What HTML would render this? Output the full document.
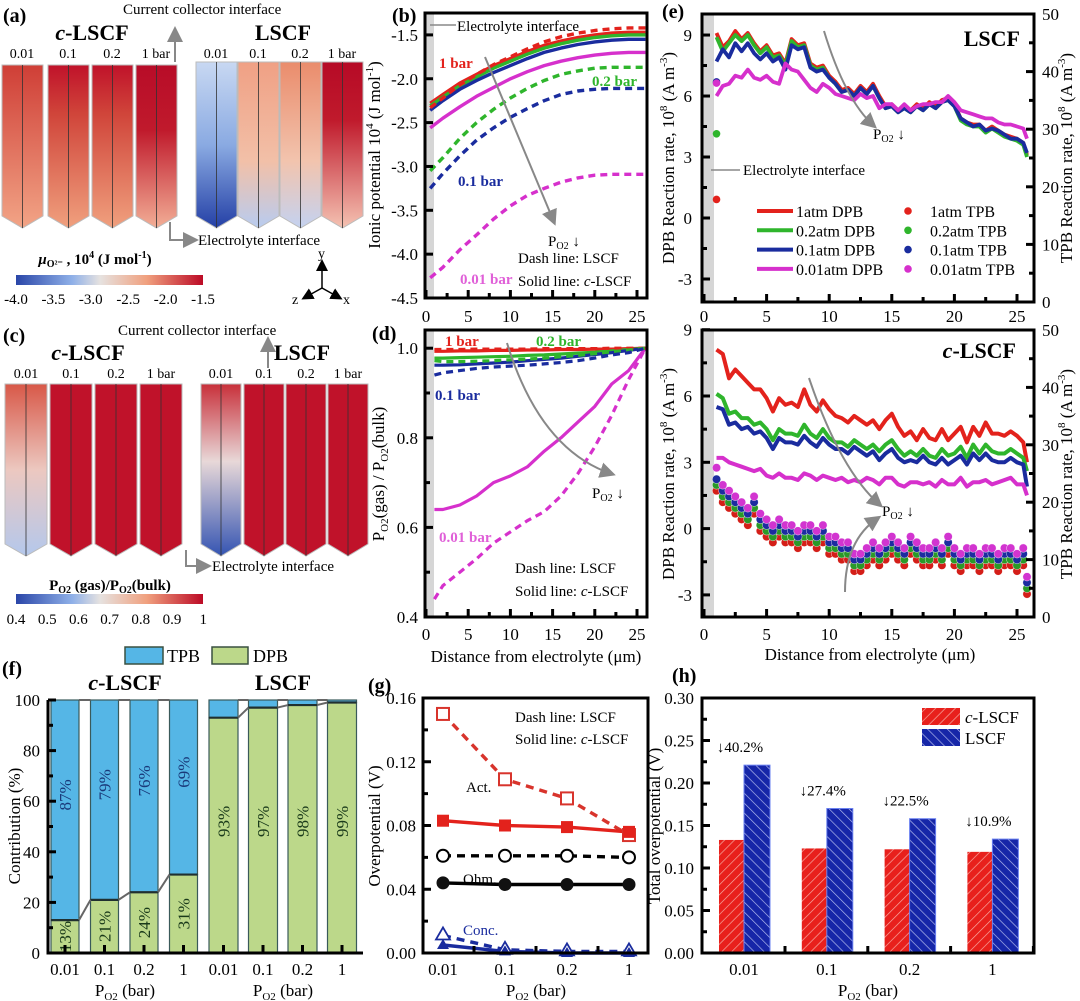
<!DOCTYPE html>
<html><head><meta charset="utf-8"><style>
html,body{margin:0;padding:0;background:#fff}
svg{display:block;font-family:"Liberation Serif",serif}
</style></head><body>
<svg id="fig" width="1080" height="1001" viewBox="0 0 1080 1001" xmlns="http://www.w3.org/2000/svg">
<defs>
<linearGradient id="cbA" x1="0" x2="1" y1="0" y2="0"><stop offset="0" stop-color="#2a46a8"/><stop offset="0.3" stop-color="#8fb0e8"/><stop offset="0.45" stop-color="#e6e2e0"/><stop offset="0.7" stop-color="#f0a07e"/><stop offset="1" stop-color="#bc0a26"/></linearGradient>
<linearGradient id="gA1" x1="0" x2="0" y1="0" y2="1"><stop offset="0" stop-color="#cf3e36"/><stop offset="1" stop-color="#f2a486"/></linearGradient>
<linearGradient id="gA2" x1="0" x2="0" y1="0" y2="1"><stop offset="0" stop-color="#c0122a"/><stop offset="0.3" stop-color="#d0453a"/><stop offset="1" stop-color="#f0a07e"/></linearGradient>
<linearGradient id="gA4" x1="0" x2="0" y1="0" y2="1"><stop offset="0" stop-color="#b80c28"/><stop offset="0.4" stop-color="#c01a2c"/><stop offset="1" stop-color="#f2ae96"/></linearGradient>
<linearGradient id="gL1" x1="0" x2="0" y1="0" y2="1"><stop offset="0" stop-color="#c8d8f2"/><stop offset="0.5" stop-color="#8aaae2"/><stop offset="1" stop-color="#2440a6"/></linearGradient>
<linearGradient id="gL2" x1="0" x2="0" y1="0" y2="1"><stop offset="0" stop-color="#f0a084"/><stop offset="0.6" stop-color="#f2c0a8"/><stop offset="1" stop-color="#b8ccf0"/></linearGradient>
<linearGradient id="gL3" x1="0" x2="0" y1="0" y2="1"><stop offset="0" stop-color="#ea8c6c"/><stop offset="0.6" stop-color="#f2c4ae"/><stop offset="1" stop-color="#c4d2f0"/></linearGradient>
<linearGradient id="gL4" x1="0" x2="0" y1="0" y2="1"><stop offset="0" stop-color="#b60a26"/><stop offset="0.35" stop-color="#c01a2c"/><stop offset="1" stop-color="#f4c2b2"/></linearGradient>
<linearGradient id="gC1" x1="0" x2="0" y1="0" y2="1"><stop offset="0" stop-color="#d85848"/><stop offset="0.5" stop-color="#ecc8c0"/><stop offset="1" stop-color="#b4c8ec"/></linearGradient>
<linearGradient id="gC5" x1="0" x2="0" y1="0" y2="1"><stop offset="0" stop-color="#c8303a"/><stop offset="0.45" stop-color="#e8d8d8"/><stop offset="1" stop-color="#3454b2"/></linearGradient>
<pattern id="hatR" width="7" height="7" patternUnits="userSpaceOnUse" patternTransform="rotate(45)"><rect width="7" height="7" fill="#e8201c"/><line x1="0" y1="0" x2="0" y2="7" stroke="#f8b0a8" stroke-width="1.3"/></pattern>
<pattern id="hatB" width="7" height="7" patternUnits="userSpaceOnUse" patternTransform="rotate(-45)"><rect width="7" height="7" fill="#1626a8"/><line x1="0" y1="0" x2="0" y2="7" stroke="#b8c0f0" stroke-width="1.3"/></pattern>
<marker id="arr" markerWidth="8" markerHeight="8" refX="6" refY="4" orient="auto"><path d="M0,0 L8,4 L0,8 z" fill="#888"/></marker>
<marker id="arrK" markerWidth="8" markerHeight="8" refX="6" refY="4" orient="auto"><path d="M0,0 L8,4 L0,8 z" fill="#000"/></marker>
</defs>
<g id="root" font-size="17"></g>
</svg>
<script>
// ---------- DATA ----------
const bX = [0.5,2,4,6,8,10,12,14,16,18,20,22,24,26];
const bSolid1 = [-2.28,-2.18,-2.05,-1.95,-1.85,-1.77,-1.69,-1.62,-1.57,-1.53,-1.50,-1.48,-1.47,-1.47];
const bSolid02 = [-2.31,-2.21,-2.08,-1.98,-1.88,-1.80,-1.72,-1.65,-1.60,-1.56,-1.53,-1.51,-1.50,-1.50];
const bSolid01 = [-2.36,-2.25,-2.12,-2.02,-1.93,-1.85,-1.77,-1.70,-1.65,-1.61,-1.58,-1.56,-1.55,-1.55];
const bSolid001 = [-2.56,-2.45,-2.32,-2.20,-2.10,-2.00,-1.92,-1.85,-1.80,-1.76,-1.73,-1.71,-1.70,-1.70];
const bDash1 = [-2.33,-2.22,-2.07,-1.95,-1.84,-1.75,-1.66,-1.58,-1.52,-1.48,-1.45,-1.43,-1.42,-1.42];
const bDash02 = [-3.05,-2.90,-2.68,-2.50,-2.35,-2.22,-2.11,-2.02,-1.95,-1.91,-1.88,-1.87,-1.87,-1.87];
const bDash01 = [-3.25,-3.08,-2.88,-2.70,-2.56,-2.44,-2.34,-2.25,-2.18,-2.14,-2.12,-2.11,-2.11,-2.11];
const bDash001 = [-4.27,-4.15,-3.95,-3.78,-3.60,-3.45,-3.33,-3.25,-3.18,-3.13,-3.10,-3.09,-3.09,-3.09];
const bYTicks = [-1.5,-2.0,-2.5,-3.0,-3.5,-4.0,-4.5];
const xTicks = [0,5,10,15,20,25];

const dX = [1,2,4,6,8,10,12,14,16,18,20,22,24,26];
const dSolid1 = [0.993,0.993,0.994,0.994,0.995,0.995,0.996,0.996,0.997,0.997,0.998,0.998,0.999,1.0];
const dSolid02 = [0.978,0.978,0.979,0.980,0.981,0.982,0.984,0.985,0.987,0.989,0.991,0.994,0.997,1.0];
const dSolid01 = [0.962,0.962,0.963,0.965,0.967,0.969,0.972,0.975,0.978,0.982,0.986,0.990,0.995,1.0];
const dSolid001 = [0.64,0.64,0.65,0.67,0.70,0.715,0.735,0.77,0.80,0.835,0.87,0.92,0.95,1.0];
const dDash1 = [0.997,0.997,0.997,0.998,0.998,0.998,0.998,0.999,0.999,0.999,0.999,1.0,1.0,1.0];
const dDash02 = [0.972,0.970,0.970,0.971,0.972,0.974,0.976,0.978,0.981,0.984,0.988,0.992,0.996,1.0];
const dDash01 = [0.94,0.945,0.95,0.955,0.958,0.96,0.962,0.965,0.968,0.972,0.978,0.985,0.99,1.0];
const dDash001 = [0.44,0.47,0.50,0.53,0.565,0.59,0.615,0.635,0.67,0.72,0.78,0.85,0.93,1.0];
const dYTicks = [1.0,0.8,0.6,0.4];

const eX = [1,1.5,2,2.5,3,3.5,4,4.5,5,5.5,6,6.5,7,7.5,8,8.5,9,9.5,10,10.5,11,11.5,12,12.5,13,13.5,14,14.5,15,15.5,16,16.5,17,17.5,18,18.5,19,19.5,20,20.5,21,21.5,22,22.5,23,23.5,24,24.5,25,25.5,25.8];
const eTop1 = [9.1,8.4,8.7,9.2,8.8,9.1,8.6,8.2,8.5,8.0,8.1,7.6,8.8,8.5,8.6,7.6,7.4,7.5,7.0,6.7,6.3,6.4,6.1,6.5,6.2,6.6,6.0,5.5,5.6,5.3,5.5,5.3,5.6,5.4,5.7,5.5,5.8,5.9,5.6,4.9,4.7,4.6,4.6,4.3,4.5,4.3,4.1,4.0,3.9,3.7,3.1];
const eTop02 = [8.9,8.2,8.6,9.0,8.7,9.0,8.5,8.1,8.4,7.9,8.0,7.5,8.7,8.4,8.5,7.5,7.3,7.4,6.9,6.6,6.2,6.3,6.0,6.4,6.1,6.5,5.9,5.4,5.5,5.2,5.4,5.2,5.5,5.3,5.6,5.4,5.7,5.8,5.5,4.8,4.6,4.5,4.5,4.2,4.4,4.2,4.0,3.9,3.8,3.6,3.0];
const eTop01 = [7.7,8.3,7.9,8.6,8.2,8.6,8.1,7.8,8.1,7.7,7.9,7.3,8.5,8.3,8.4,7.4,7.2,7.3,6.9,6.6,6.2,6.3,6.0,6.4,6.1,6.5,5.9,5.4,5.5,5.2,5.4,5.2,5.5,5.3,5.6,5.4,5.7,5.8,5.5,4.9,4.7,4.5,4.6,4.3,4.4,4.3,4.1,3.9,3.9,3.7,3.2];
const eTop001 = [6.0,6.5,6.6,7.0,6.9,7.3,6.9,6.8,7.0,6.7,6.6,7.6,7.3,7.2,6.8,6.4,6.2,6.6,6.4,6.1,6.0,5.9,5.8,6.1,5.9,6.0,5.4,5.6,5.6,5.3,5.6,5.3,5.5,5.6,5.6,5.7,5.7,6.0,5.7,5.3,5.2,5.1,5.0,4.9,4.9,4.7,4.6,4.6,4.5,4.4,3.9];
const eTopTPB = [17.8,29.2,38.2,38.0];
const eBot1 = [8.1,7.9,6.8,7.2,6.9,6.6,6.3,6.3,5.9,5.3,5.9,5.6,5.7,5.5,6.3,5.6,5.3,5.8,5.4,5.1,5.0,4.8,5.1,4.9,4.7,4.9,4.5,4.9,5.2,4.6,4.2,4.4,4.0,4.5,4.1,4.0,4.5,4.0,4.3,4.6,3.9,4.6,4.2,4.8,4.3,4.3,4.2,4.4,4.2,3.9,3.0];
const eBot02 = [6.1,5.9,5.2,5.3,5.0,5.0,4.7,4.8,4.5,4.0,4.5,4.3,4.3,4.2,4.7,4.3,4.1,4.5,4.1,3.9,3.9,3.7,4.0,3.8,3.6,3.8,3.5,3.8,4.0,3.6,3.3,3.5,3.3,3.6,3.3,3.2,3.6,3.3,3.4,3.7,3.2,3.8,3.4,3.8,3.5,3.4,3.4,3.6,3.4,3.2,2.6];
const eBot01 = [5.5,5.4,4.7,4.8,4.5,4.6,4.3,4.4,4.1,3.6,4.1,3.9,3.9,3.8,4.2,3.9,3.7,4.1,3.8,3.6,3.6,3.4,3.7,3.5,3.3,3.5,3.1,3.4,3.6,3.2,3.0,3.1,3.0,3.3,3.0,2.9,3.2,2.9,3.1,3.3,2.9,3.4,3.1,3.4,3.1,3.0,3.0,3.2,3.0,2.9,1.9];
const eBot001 = [3.2,3.2,3.0,2.9,2.8,2.7,2.6,2.7,2.4,2.3,2.5,2.3,2.3,2.2,2.5,2.4,2.2,2.4,2.3,2.2,2.3,2.1,2.2,2.1,2.3,2.2,2.0,2.3,2.3,2.0,1.9,2.1,2.1,2.0,2.1,1.9,2.2,2.0,2.0,2.3,1.9,2.1,2.1,2.2,2.0,2.1,2.2,2.3,2.0,2.0,1.5];
const tpb1 = [22,20,19,18,17,16,18,15,14,13,14,13,13,12,13,13,12,13,11,11,10,10,8,8,9,10,9,10,11,10,9,11,10,9,9,10,9,11,9,8,9,9,8,9,9,8,9,9,8,9,4];
const tpb02 = [23,21,20,19,18,17,19,16,15,14,15,14,14,13,14,14,13,14,12,12,11,11,9,9,10,11,10,11,12,11,10,12,11,10,10,11,10,12,10,9,10,10,9,10,10,9,10,10,9,10,5];
const tpb01 = [24,22,21,20,19,18,20,17,16,15,16,15,15,14,15,15,14,15,13,13,12,12,10,10,11,12,11,12,13,12,11,13,12,11,11,12,11,13,11,10,11,11,10,11,11,10,11,11,10,11,6];
const tpb001 = [26,23,22,21,20,19,21,18,17,16,17,16,16,15,16,16,15,16,14,14,13,13,11,11,12,13,12,13,14,13,12,14,13,12,12,13,12,14,12,11,12,12,11,12,12,11,12,12,11,12,7];
const eLTicks = [9,6,3,0,-3];
const eRTicks = [50,40,30,20,10,0];

const fCats = ["0.01","0.1","0.2","1"];
const fDpbC = [13,21,24,31];
const fDpbL = [93,97,98,99];
const fYTicks = [0,20,40,60,80,100];

const gCats = ["0.01","0.1","0.2","1"];
const gActL = [0.150,0.109,0.097,0.074];
const gActC = [0.083,0.080,0.079,0.076];
const gOhmL = [0.061,0.061,0.061,0.060];
const gOhmC = [0.044,0.043,0.043,0.043];
const gConcL = [0.011,0.002,0.001,0.001];
const gConcC = [0.005,0.001,0.0,0.0];
const gYTicks = [0.00,0.04,0.08,0.12,0.16];

const hCats = ["0.01","0.1","0.2","1"];
const hC = [0.133,0.123,0.122,0.119];
const hL = [0.221,0.170,0.158,0.134];
const hPct = ["↓40.2%","↓27.4%","↓22.5%","↓10.9%"];
const hYTicks = [0.00,0.05,0.10,0.15,0.20,0.25,0.30];

// ---------- HELPERS ----------
const NS = "http://www.w3.org/2000/svg";
const root = document.getElementById('root');
function mk(tag, attrs, parent){
  const el = document.createElementNS(NS, tag);
  for (const k in attrs) el.setAttribute(k, attrs[k]);
  (parent||root).appendChild(el);
  return el;
}
function txt(x,y,s,opt,name){
  opt = opt||{};
  const el = mk('text',{x:x,y:y,'font-size':opt.size||17,'text-anchor':opt.anchor||'start',fill:opt.fill||'#000','font-weight':opt.bold?'bold':'normal'});
  if (opt.rot) el.setAttribute('transform','rotate('+opt.rot+' '+x+' '+y+')');
  if (opt.italic) el.setAttribute('font-style','italic');
  el.innerHTML = s;
  
  
  return el;
}
function poly(xs, ys, fx, fy, color, w, dash, name){
  const pts = xs.map((x,i)=>fx(x).toFixed(1)+','+fy(ys[i]).toFixed(1)).join(' ');
  const el = mk('polyline',{points:pts,fill:'none',stroke:color,'stroke-width':w,'stroke-linejoin':'round'});
  if (dash) el.setAttribute('stroke-dasharray', dash);
  
  
  return el;
}
function frame(x1,y1,x2,y2,name){
  const el = mk('rect',{x:x1,y:y1,width:x2-x1,height:y2-y1,fill:'none',stroke:'#000','stroke-width':3});
  
  
}
function tick(x1,y1,x2,y2){
  const el = mk('line',{x1:x1,y1:y1,x2:x2,y2:y2,stroke:'#000','stroke-width':3});
  
  
}
function band(x1,y1,x2,y2){
  const el = mk('rect',{x:x1,y:y1,width:x2-x1,height:y2-y1,fill:'#d6d6d6'});
  
  
}
function arrowLine(d, name){
  const el = mk('path',{d:d,fill:'none',stroke:'#888','stroke-width':2,'marker-end':'url(#arr)'});
  
  
}
const RED='#e3221c', GRN='#2fb52c', BLU='#1a2c9e', MAG='#d630cc';

// ---------- PANEL A / C (3D renders) ----------
function column(x,y0,y1,w,fill,name){
  const el = mk('polygon',{points:`${x},${y0} ${x+w},${y0} ${x+w},${y1-12} ${x+w/2},${y1} ${x},${y1-12}`,fill:fill,stroke:'#bbb','stroke-width':1});
  
  
  const ln = mk('line',{x1:x+w/2,y1:y0,x2:x+w/2,y2:y1,stroke:'#333','stroke-width':0.8});
  
  
}
txt(3,22,'(a)',{size:20,bold:true},'panel-a-label');
txt(123,14,'Current collector interface',{size:15},'current-collector-label-a');
arrowLine('M175,62 L175,30','cc-arrow-a');
txt(92,40,'<tspan font-style="italic">c</tspan>-LSCF',{size:22,bold:true,anchor:'middle'},'c-lscf-title-a');
txt(283,40,'LSCF',{size:22,bold:true,anchor:'middle'},'lscf-title-a');
const aLab=['0.01','0.1','0.2','1 bar'];
const aXc=[2,48,92,136], aXl=[196,238,280,322];
const aFc=['url(#gA1)','url(#gA2)','url(#gA2)','url(#gA4)'], aFl=['url(#gL1)','url(#gL2)','url(#gL3)','url(#gL4)'];
for(let i=0;i<4;i++){
  txt(aXc[i]+20,58,aLab[i],{size:14,anchor:'middle'},'pressure-label');
  txt(aXl[i]+20,58,aLab[i],{size:14,anchor:'middle'},'pressure-label');
  column(aXc[i],65,228,41,aFc[i],'c-lscf-column');
  column(aXl[i],62,228,41,aFl[i],'lscf-column');
}
arrowLine('M170,222 L170,240 L195,240','el-arrow-a');
txt(198,245,'Electrolyte interface',{size:15},'electrolyte-label-a');
txt(95,264,'<tspan font-style="italic">μ</tspan><tspan font-size="10" dy="3">O²⁻</tspan><tspan dy="-3"> , 10</tspan><tspan font-size="10" dy="-6">4</tspan><tspan dy="6"> (J mol</tspan><tspan font-size="10" dy="-6">-1</tspan><tspan dy="6">)</tspan>',{size:15,bold:true,anchor:'middle'},'colorbar-a-title');
{const cb=mk('rect',{x:16,y:275,width:187,height:10,fill:'url(#cbA)'});

}
['-4.0','-3.5','-3.0','-2.5','-2.0','-1.5'].forEach((s,i)=>txt(16+i*37.4,304,s,{size:15,anchor:'middle'},'colorbar-a-tick'));
// axis triad
{const g=[['M322,288 L322,262','axis-y-arrow'],['M322,288 L340,298','axis-x-arrow'],['M322,288 L304,298','axis-z-arrow']];
g.forEach(a=>{const el=mk('path',{d:a[0],stroke:'#000','stroke-width':1.5,'marker-end':'url(#arrK)'});

});
txt(318,258,'y',{size:14},'axis-y-label');txt(343,304,'x',{size:14},'axis-x-label');txt(292,304,'z',{size:14},'axis-z-label');}

txt(3,342,'(c)',{size:20,bold:true},'panel-c-label');
txt(118,335,'Current collector interface',{size:15},'current-collector-label-c');
arrowLine('M268,368 L268,340','cc-arrow-c');
txt(88,360,'<tspan font-style="italic">c</tspan>-LSCF',{size:22,bold:true,anchor:'middle'},'c-lscf-title-c');
txt(302,360,'LSCF',{size:22,bold:true,anchor:'middle'},'lscf-title-c');
const cXc=[5,50,95,140], cXl=[201,244,286,328];
const cFc=['url(#gC1)','#c0122a','#c0122a','#c0122a'], cFl=['url(#gC5)','#c0122a','#c0122a','#c0122a'];
for(let i=0;i<4;i++){
  txt(cXc[i]+21,378,aLab[i],{size:14,anchor:'middle'},'pressure-label');
  txt(cXl[i]+20,378,aLab[i],{size:14,anchor:'middle'},'pressure-label');
  column(cXc[i],384,556,42,cFc[i],'c-lscf-column');
  column(cXl[i],384,556,40,cFl[i],'lscf-column');
}
arrowLine('M186,550 L186,566 L208,566','el-arrow-c');
txt(212,571,'Electrolyte interface',{size:15},'electrolyte-label-c');
txt(110,590,'P<tspan font-size="10" dy="3">O2</tspan><tspan dy="-3"> (gas)/P</tspan><tspan font-size="10" dy="3">O2</tspan><tspan dy="-3">(bulk)</tspan>',{size:15,bold:true,anchor:'middle'},'colorbar-c-title');
{const cb=mk('rect',{x:16,y:594,width:187,height:10,fill:'url(#cbA)'});

}
['0.4','0.5','0.6','0.7','0.8','0.9','1'].forEach((s,i)=>txt(16+i*31.2,624,s,{size:15,anchor:'middle'},'colorbar-c-tick'));

// ---------- PANEL B ----------
const bx = v => 426 + v*8.44;
const by = v => 298 - (v+4.5)*87.7;
txt(392,22,'(b)',{size:20,bold:true},'panel-b-label');
band(426,14,434,297);
[[bSolid1,RED,''],[bSolid02,GRN,''],[bSolid01,BLU,''],[bSolid001,MAG,''],[bDash1,RED,'7,5'],[bDash02,GRN,'7,5'],[bDash01,BLU,'7,5'],[bDash001,MAG,'7,5']].forEach(s=>poly(bX,s[0],bx,by,s[1],3.4,s[2],'ionic-potential-line'));
frame(425,13,647,298,'panel-b-frame');
bYTicks.forEach(v=>{tick(425,by(v),433,by(v));txt(418,by(v)+6,v.toFixed(1),{size:17,anchor:'end'},'b-y-tick-label');});
xTicks.forEach(v=>{tick(bx(v),298,bx(v),290);txt(bx(v),322,String(v),{size:17,anchor:'middle'},'b-x-tick-label');});
[2.5,7.5,12.5,17.5,22.5].forEach(v=>tick(bx(v),298,bx(v),293));
txt(380,155,'Ionic potential 10<tspan font-size="11" dy="-7">4</tspan><tspan dy="7"> (J mol</tspan><tspan font-size="11" dy="-7">-1</tspan><tspan dy="7">)</tspan>',{size:17,anchor:'middle',rot:-90},'b-y-axis-title');
{const l=mk('line',{x1:430,y1:25,x2:456,y2:25,stroke:'#888','stroke-width':1.5});}
txt(457,31,'Electrolyte interface',{size:15},'electrolyte-label-b');
txt(439,68,'1 bar',{size:15,bold:true,fill:RED},'label-1bar');
txt(592,86,'0.2 bar',{size:15,bold:true,fill:GRN},'label-02bar');
txt(458,186,'0.1 bar',{size:15,bold:true,fill:BLU},'label-01bar');
txt(460,284,'0.01 bar',{size:15,bold:true,fill:'#e060d8'},'label-001bar');
arrowLine('M485,57 L554,222','po2-arrow-b');
txt(548,246,'P<tspan font-size="10" dy="3">O2</tspan><tspan dy="-3"> ↓</tspan>',{size:15},'po2-label-b');
txt(518,263,'Dash line:  LSCF',{size:15},'dash-legend-b');
txt(518,286,'Solid line:  <tspan font-style="italic">c</tspan>-LSCF',{size:15},'solid-legend-b');

// ---------- PANEL D ----------
const dy = v => 617 - (v-0.4)*448;
txt(372,340,'(d)',{size:20,bold:true},'panel-d-label');
band(426,331,434,616);
[[dSolid1,RED,''],[dSolid02,GRN,''],[dSolid01,BLU,''],[dSolid001,MAG,''],[dDash1,RED,'7,5'],[dDash02,GRN,'7,5'],[dDash01,BLU,'7,5'],[dDash001,MAG,'7,5']].forEach(s=>poly(dX,s[0],bx,dy,s[1],3.2,s[2],'po2-ratio-line'));
frame(425,330,647,617,'panel-d-frame');
dYTicks.forEach(v=>{tick(425,dy(v),433,dy(v));txt(418,dy(v)+6,v.toFixed(1),{size:17,anchor:'end'},'d-y-tick-label');});
[0.5,0.7,0.9].forEach(v=>tick(425,dy(v),430,dy(v)));
xTicks.forEach(v=>{tick(bx(v),617,bx(v),609);txt(bx(v),640,String(v),{size:17,anchor:'middle'},'d-x-tick-label');});
[2.5,7.5,12.5,17.5,22.5].forEach(v=>tick(bx(v),617,bx(v),612));
txt(536,662,'Distance from electrolyte (μm)',{size:17,anchor:'middle'},'d-x-axis-title');
txt(384,474,'P<tspan font-size="11" dy="4">O2</tspan><tspan dy="-4">(gas) / P</tspan><tspan font-size="11" dy="4">O2</tspan><tspan dy="-4">(bulk)</tspan>',{size:17,anchor:'middle',rot:-90},'d-y-axis-title');
txt(445,346,'1 bar',{size:15,bold:true,fill:RED},'label-1bar-d');
txt(536,346,'0.2 bar',{size:15,bold:true,fill:GRN},'label-02bar-d');
txt(435,400,'0.1 bar',{size:15,bold:true,fill:BLU},'label-01bar-d');
txt(439,542,'0.01 bar',{size:15,bold:true,fill:'#e060d8'},'label-001bar-d');
arrowLine('M507,343 Q540,450 612,474','po2-arrow-d');
txt(592,498,'P<tspan font-size="10" dy="3">O2</tspan><tspan dy="-3"> ↓</tspan>',{size:15},'po2-label-d');
txt(515,573,'Dash line:  LSCF',{size:15},'dash-legend-d');
txt(515,596,'Solid line:  <tspan font-style="italic">c</tspan>-LSCF',{size:15},'solid-legend-d');

// ---------- PANEL E ----------
const ex = v => 704 + v*12.52;
const eyT = v => 218 - v*20.33;
const eyTR = v => 302 - v*5.76;
const eyB = v => 617 - (v+4)*22.1;
const eyBR = v => 617 - v*5.74;
txt(662,18,'(e)',{size:20,bold:true},'panel-e-label');
band(703,15,714,301); band(703,331,714,616);
[[eTop1,RED],[eTop02,GRN],[eTop01,BLU],[eTop001,MAG]].forEach(s=>poly(eX,s[0],ex,eyT,s[1],3.8,'','dpb-line-lscf'));
[RED,GRN,BLU,MAG].forEach((c,i)=>{const el=mk('circle',{cx:ex(1),cy:eyTR(eTopTPB[i]),r:3.8,fill:c});

});
[[eBot1,RED],[eBot02,GRN],[eBot01,BLU],[eBot001,MAG]].forEach(s=>poly(eX,s[0],ex,eyB,s[1],4,'','dpb-line-c-lscf'));
[[tpb1,'#d41e18'],[tpb02,'#2a9a28'],[tpb01,'#1c2ca0'],[tpb001,'#d234d0']].forEach(s=>{
  s[0].forEach((v,i)=>{const el=mk('circle',{cx:ex(eX[i]),cy:eyBR(v),r:4.2,fill:s[1],stroke:'#fff','stroke-width':0.4});
  
  });
});
frame(702,14,1034,302,'panel-e-top-frame');
frame(702,330,1034,617,'panel-e-bottom-frame');
eLTicks.forEach(v=>{tick(702,eyT(v),710,eyT(v));txt(692,eyT(v)+6,String(v),{size:17,anchor:'end'},'e-left-tick');
  tick(702,eyB(v),710,eyB(v));txt(692,eyB(v)+6,String(v),{size:17,anchor:'end'},'e-left-tick');});
[7.5,4.5,1.5,-1.5].forEach(v=>{tick(702,eyT(v),707,eyT(v));tick(702,eyB(v),707,eyB(v));});
eRTicks.forEach(v=>{tick(1034,eyTR(v),1026,eyTR(v));txt(1042,eyTR(v)+6,String(v),{size:17},'e-right-tick');
  tick(1034,eyBR(v),1026,eyBR(v));txt(1042,eyBR(v)+6,String(v),{size:17},'e-right-tick');});
[45,35,25,15,5].forEach(v=>{tick(1034,eyTR(v),1029,eyTR(v));tick(1034,eyBR(v),1029,eyBR(v));});
xTicks.forEach(v=>{tick(ex(v),302,ex(v),294);txt(ex(v),322,String(v),{size:17,anchor:'middle'},'e-x-tick');
  tick(ex(v),617,ex(v),609);txt(ex(v),640,String(v),{size:17,anchor:'middle'},'e-x-tick');});
[2.5,7.5,12.5,17.5,22.5].forEach(v=>{tick(ex(v),302,ex(v),297);tick(ex(v),617,ex(v),612);});
txt(870,660,'Distance from electrolyte (μm)',{size:17,anchor:'middle'},'e-x-axis-title');
const dpbT='DPB Reaction rate, 10<tspan font-size="11" dy="-7">8</tspan><tspan dy="7"> (A m</tspan><tspan font-size="11" dy="-7">-3</tspan><tspan dy="7">)</tspan>';
const tpbT='TPB Reaction rate, 10<tspan font-size="11" dy="-7">8</tspan><tspan dy="7"> (A m</tspan><tspan font-size="11" dy="-7">-3</tspan><tspan dy="7">)</tspan>';
txt(674,158,dpbT,{size:17,anchor:'middle',rot:-90},'e-top-left-axis-title');
txt(1072,158,tpbT,{size:17,anchor:'middle',rot:-90},'e-top-right-axis-title');
txt(674,474,dpbT,{size:17,anchor:'middle',rot:-90},'e-bottom-left-axis-title');
txt(1072,474,tpbT,{size:17,anchor:'middle',rot:-90},'e-bottom-right-axis-title');
txt(1020,46,'LSCF',{size:22,bold:true,anchor:'end'},'e-top-title');
txt(1016,358,'<tspan font-style="italic">c</tspan>-LSCF',{size:22,bold:true,anchor:'end'},'e-bottom-title');
arrowLine('M824,31 Q845,100 874,126','po2-arrow-e-top');
txt(873,139,'P<tspan font-size="10" dy="3">O2</tspan><tspan dy="-3"> ↓</tspan>',{size:15},'po2-label-e-top');
{const l=mk('line',{x1:711,y1:170,x2:740,y2:170,stroke:'#888','stroke-width':1.5});}
txt(743,175,'Electrolyte interface',{size:15},'electrolyte-label-e');
const legNames=['1atm','0.2atm','0.1atm','0.01atm'];
[RED,GRN,BLU,MAG].forEach((c,i)=>{
  const y=211+i*19.3;
  const l=mk('line',{x1:757,y1:y,x2:793,y2:y,stroke:c,'stroke-width':4});
  
  
  txt(796,y+6,legNames[i]+' DPB',{size:16},'legend-entry');
  const d=mk('circle',{cx:908,cy:y,r:3.8,fill:c});
  
  
  txt(930,y+6,legNames[i]+' TPB',{size:16},'legend-entry');
});
arrowLine('M809,378 Q840,470 880,505','po2-arrow-e-bottom');
arrowLine('M845,592 Q845,540 878,518','po2-arrow-e-bottom-2');
txt(882,516,'P<tspan font-size="10" dy="3">O2</tspan><tspan dy="-3"> ↓</tspan>',{size:15},'po2-label-e-bottom');

// ---------- PANEL F ----------
const fy = v => 953 - v*2.53;
const fxC = i => 51 + i*39.5;
const fxL = i => 209 + i*39.5;
txt(2,675,'(f)',{size:20,bold:true},'panel-f-label');
{const a=mk('rect',{x:125,y:647,width:38,height:17,fill:'#55b6e6',stroke:'#3a5040','stroke-width':1.5});
const b=mk('rect',{x:212,y:647,width:36,height:17,fill:'#bcd88a',stroke:'#3a5040','stroke-width':1.5});}
txt(167,662,'TPB',{size:18},'legend-tpb');
txt(253,662,'DPB',{size:18},'legend-dpb');
txt(125,690,'<tspan font-style="italic">c</tspan>-LSCF',{size:22,bold:true,anchor:'middle'},'f-c-lscf-title');
txt(283,690,'LSCF',{size:22,bold:true,anchor:'middle'},'f-lscf-title');
function stack(x,w,dpb,name){
  const t=mk('rect',{x:x,y:fy(100),width:w,height:fy(dpb)-fy(100),fill:'#55b6e6',stroke:'#3a5a5a','stroke-width':1.2});
  
  
  const d=mk('rect',{x:x,y:fy(dpb),width:w,height:fy(0)-fy(dpb),fill:'#bcd88a',stroke:'#3a5a5a','stroke-width':1.2});
  
  
  const l=mk('line',{x1:x,y1:fy(dpb),x2:x+w,y2:fy(dpb),stroke:'#203030','stroke-width':2.2});
  
  
}
fDpbC.forEach((v,i)=>stack(fxC(i),28,v,'bar-c-lscf'));
fDpbL.forEach((v,i)=>stack(fxL(i),29,v,'bar-lscf'));
function conn(arr,fx,w){
  for(let i=0;i<arr.length-1;i++){const l=mk('line',{x1:fx(i)+w,y1:fy(arr[i]),x2:fx(i+1),y2:fy(arr[i+1]),stroke:'#666','stroke-width':2});
  
  
  const t=mk('line',{x1:fx(i)+w,y1:fy(100),x2:fx(i+1),y2:fy(100),stroke:'#666','stroke-width':2});
  
  }
}
conn(fDpbC,fxC,28); conn(fDpbL,fxL,29);
fDpbC.forEach((v,i)=>{const cx=fxC(i)+14;
  txt(cx+6,fy((100+v)/2+6),(100-v)+'%',{size:17,anchor:'middle',rot:-90,fill:'#1a3a7a'},'tpb-percent');
  txt(cx+6,fy(v/2),v+'%',{size:17,anchor:'middle',rot:-90,fill:'#1a3a1a'},'dpb-percent');});
fDpbL.forEach((v,i)=>{const cx=fxL(i)+14.5;
  txt(cx+6,fy(52),v+'%',{size:17,anchor:'middle',rot:-90,fill:'#1a3a1a'},'dpb-percent');});
{const ax=mk('path',{d:'M48,700 L48,953 L363,953',fill:'none',stroke:'#000','stroke-width':3});}
fYTicks.forEach(v=>{tick(48,fy(v),56,fy(v));txt(40,fy(v)+6,String(v),{size:17,anchor:'end'},'f-y-tick');});
[10,30,50,70,90].forEach(v=>tick(48,fy(v),53,fy(v)));
fCats.forEach((c,i)=>{tick(fxC(i)+14,953,fxC(i)+14,945);txt(fxC(i)+14,975,c,{size:17,anchor:'middle'},'f-x-tick');
  tick(fxL(i)+14.5,953,fxL(i)+14.5,945);txt(fxL(i)+14.5,975,c,{size:17,anchor:'middle'},'f-x-tick');});
txt(125,996,'P<tspan font-size="11" dy="4">O2</tspan><tspan dy="-4"> (bar)</tspan>',{size:17,anchor:'middle'},'f-x-axis-title-c');
txt(283,996,'P<tspan font-size="11" dy="4">O2</tspan><tspan dy="-4"> (bar)</tspan>',{size:17,anchor:'middle'},'f-x-axis-title-l');
txt(20,826,'Contribution (%)',{size:17,anchor:'middle',rot:-90},'f-y-axis-title');

// ---------- PANEL G ----------
const gx = i => 443 + i*62;
const gy = v => 953 - v*1593.75;
txt(368,692,'(g)',{size:20,bold:true},'panel-g-label');
const idx=[0,1,2,3];
poly(idx,gActL,gx,gy,'#d8342c',3.4,'8,6','act-lscf-line');
poly(idx,gActC,gx,gy,'#e3221c',3.4,'','act-c-lscf-line');
poly(idx,gOhmL,gx,gy,'#000',3.4,'8,6','ohm-lscf-line');
poly(idx,gOhmC,gx,gy,'#000',3.4,'','ohm-c-lscf-line');
poly(idx,gConcL,gx,gy,'#1a2c9e',3.4,'8,6','conc-lscf-line');
poly(idx,gConcC,gx,gy,'#1a2c9e',3.4,'','conc-c-lscf-line');
idx.forEach(i=>{
  let m=mk('rect',{x:gx(i)-6,y:gy(gActL[i])-6,width:12,height:12,fill:'#fff',stroke:'#d8342c','stroke-width':2});
  
  
  m=mk('rect',{x:gx(i)-6,y:gy(gActC[i])-6,width:12,height:12,fill:'#e3221c'});
  
  
  m=mk('circle',{cx:gx(i),cy:gy(gOhmL[i]),r:6,fill:'#fff',stroke:'#000','stroke-width':2});
  
  
  m=mk('circle',{cx:gx(i),cy:gy(gOhmC[i]),r:6.5,fill:'#111'});
  
  
  m=mk('polygon',{points:`${gx(i)},${gy(gConcL[i])-8} ${gx(i)+7},${gy(gConcL[i])+4} ${gx(i)-7},${gy(gConcL[i])+4}`,fill:'#fff',stroke:'#1a2c9e','stroke-width':1.8});
  
  
  m=mk('polygon',{points:`${gx(i)},${gy(gConcC[i])-6} ${gx(i)+6},${gy(gConcC[i])+4} ${gx(i)-6},${gy(gConcC[i])+4}`,fill:'#1a2c9e'});
  
  
});
frame(423,698,648,953,'panel-g-frame');
gYTicks.forEach(v=>{tick(423,gy(v),431,gy(v));txt(416,gy(v)+6,v.toFixed(2),{size:17,anchor:'end'},'g-y-tick');});
[0.02,0.06,0.10,0.14].forEach(v=>tick(423,gy(v),428,gy(v)));
gCats.forEach((c,i)=>{txt(gx(i),975,c,{size:17,anchor:'middle'},'g-x-tick');});
[0,1,2].forEach(i=>tick(gx(i)+31,953,gx(i)+31,946));
txt(536,996,'P<tspan font-size="11" dy="4">O2</tspan><tspan dy="-4"> (bar)</tspan>',{size:17,anchor:'middle'},'g-x-axis-title');
txt(380,826,'Overpotential (V)',{size:17,anchor:'middle',rot:-90},'g-y-axis-title');
txt(515,722,'Dash line:  LSCF',{size:15},'dash-legend-g');
txt(515,744,'Solid line:  <tspan font-style="italic">c</tspan>-LSCF',{size:15},'solid-legend-g');
txt(466,792,'Act.',{size:15},'act-label');
txt(463,884,'Ohm.',{size:15},'ohm-label');
txt(463,935,'Conc.',{size:15,fill:'#1a2c9e'},'conc-label');

// ---------- PANEL H ----------
const hx = i => 744 + i*82.8;
const hy = v => 953 - v*850;
txt(672,682,'(h)',{size:20,bold:true},'panel-h-label');
hC.forEach((v,i)=>{const r=mk('rect',{x:hx(i)-25,y:hy(v),width:25,height:953-hy(v),fill:'url(#hatR)'});
  
  });
hL.forEach((v,i)=>{const r=mk('rect',{x:hx(i),y:hy(v),width:26,height:953-hy(v),fill:'url(#hatB)',stroke:'#6a80f0','stroke-width':1});
  
  
  txt(hx(i)-4,hy(v)-13,hPct[i],{size:15,anchor:'middle'},'reduction-label');});
frame(702,698,1034,953,'panel-h-frame');
hYTicks.forEach(v=>{tick(702,hy(v),710,hy(v));txt(694,hy(v)+6,v.toFixed(2),{size:17,anchor:'end'},'h-y-tick');});
[0.025,0.075,0.125,0.175,0.225,0.275].forEach(v=>tick(702,hy(v),707,hy(v)));
hCats.forEach((c,i)=>txt(hx(i),975,c,{size:17,anchor:'middle'},'h-x-tick'));
[0,1,2,3].forEach(i=>tick(hx(i)+41,953,hx(i)+41,946));
txt(868,996,'P<tspan font-size="11" dy="4">O2</tspan><tspan dy="-4"> (bar)</tspan>',{size:17,anchor:'middle'},'h-x-axis-title');
txt(660,826,'Total overpotential (V)',{size:17,anchor:'middle',rot:-90},'h-y-axis-title');
{const a=mk('rect',{x:922,y:708,width:38,height:17,fill:'url(#hatR)'});
const b=mk('rect',{x:922,y:729,width:38,height:17,fill:'url(#hatB)'});}
txt(965,723,'<tspan font-style="italic">c</tspan>-LSCF',{size:17},'legend-c-lscf');
txt(965,744,'LSCF',{size:17},'legend-lscf');
</script>
</body></html>
